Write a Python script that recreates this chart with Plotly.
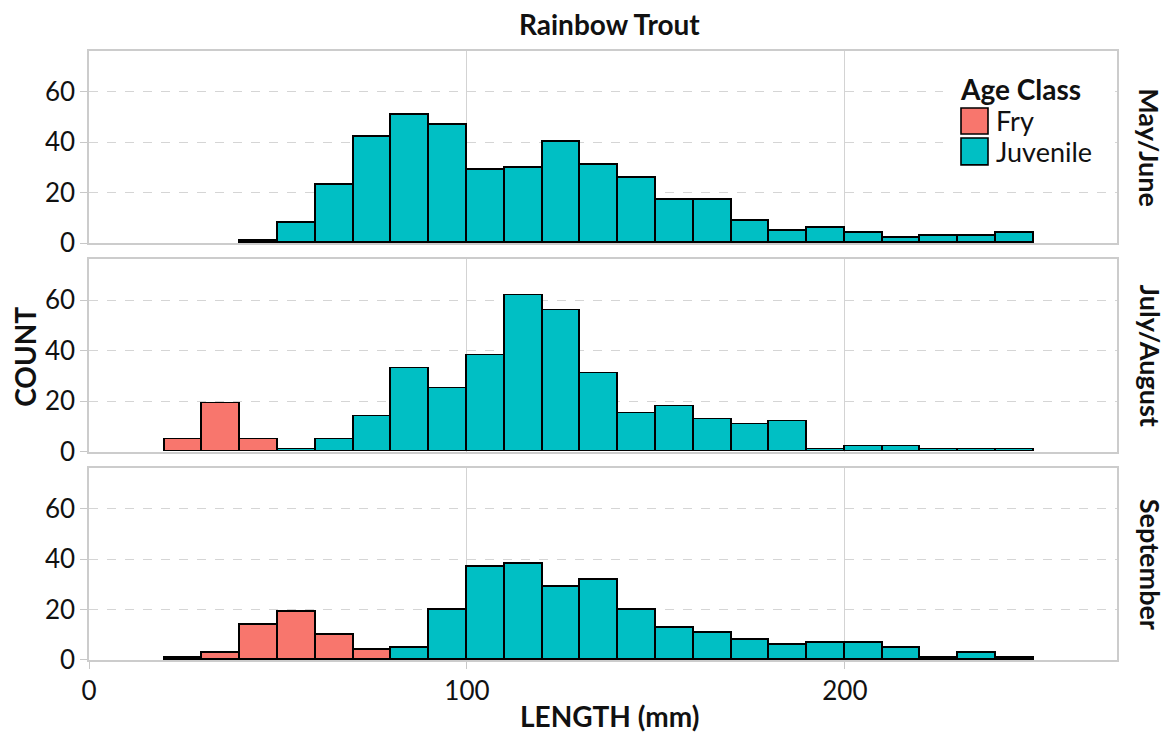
import plotly.graph_objects as go

# ---------------- data ----------------
bin_starts = [20, 30, 40, 50, 60, 70, 80, 90, 100, 110, 120, 130, 140,
              150, 160, 170, 180, 190, 200, 210, 220, 230, 240]
bin_width = 10
periods = ["May/June", "July/August", "September"]
age_classes = ["Fry", "Juvenile"]

fry_may = [0, 0, 0, 0, 0, 0, 0, 0, 0, 0, 0, 0, 0, 0, 0, 0, 0, 0, 0, 0, 0, 0, 0]
juv_may = [0, 0, 1, 8, 23, 42, 51, 47, 29, 30, 40, 31, 26, 17, 17, 9, 5, 6, 4, 2, 3, 3, 4]

fry_jul = [5, 19, 5, 0, 0, 0, 0, 0, 0, 0, 0, 0, 0, 0, 0, 0, 0, 0, 0, 0, 0, 0, 0]
juv_jul = [0, 0, 0, 1, 5, 14, 33, 25, 38, 62, 56, 31, 15, 18, 13, 11, 12, 1, 2, 2, 1, 1, 1]

fry_sep = [1, 3, 14, 19, 10, 4, 0, 0, 0, 0, 0, 0, 0, 0, 0, 0, 0, 0, 0, 0, 0, 0, 0]
juv_sep = [0, 0, 0, 0, 0, 0, 5, 20, 37, 38, 29, 32, 20, 13, 11, 8, 6, 7, 7, 5, 1, 3, 1]

x_ticks = [0, 100, 200]
y_ticks = [0, 20, 40, 60]
colors = {"Fry": "#F8766D", "Juvenile": "#00BFC4"}

panels = [(fry_may, juv_may), (fry_jul, juv_jul), (fry_sep, juv_sep)]

# ---------------- layout geometry ----------------
W, H = 1172, 736
ML, MR, MT, MB = 89, 55, 51, 75.5
PW = W - ML - MR
PH = H - MT - MB

def px2x(px):
    return (px - ML) / PW

def px2y(py):
    return (H - MB - py) / PH

def clamp(v):
    return min(1.0, max(0.0, v))

panel_tops = [51, 259.5, 468]
panel_h = 192.5
domains = [[clamp(px2y(t + panel_h)), clamp(px2y(t))] for t in panel_tops]

FONT = "Lato, 'Open Sans', sans-serif"
TXT = "#111111"

fig = go.Figure()
for i, (fry, juv) in enumerate(panels):
    suffix = "" if i == 0 else str(i + 1)
    for name, vals in (("Fry", fry), ("Juvenile", juv)):
        fig.add_trace(go.Bar(
            x=bin_starts,
            y=[v if v else None for v in vals],
            width=bin_width,
            offset=0,
            name=name,
            marker=dict(color=colors[name], line=dict(color="black", width=1.6)),
            xaxis="x" + suffix,
            yaxis="y" + suffix,
            showlegend=False,
        ))

layout = dict(
    width=W, height=H,
    margin=dict(l=ML, r=MR, t=MT, b=MB),
    paper_bgcolor="white", plot_bgcolor="white",
    barmode="stack", bargap=0,
    font=dict(family=FONT, color=TXT, size=26),
)

for i in range(3):
    suffix = "" if i == 0 else str(i + 1)
    bottom = (i == 2)
    layout["xaxis" + suffix] = dict(
        domain=[0, 1], anchor="y" + suffix, range=[0, 272],
        tickvals=x_ticks, showticklabels=bottom,
        ticks="outside" if bottom else "", ticklen=7, tickcolor="#c8c8c8", tickwidth=1,
        showgrid=True, gridcolor="#d3d3d3", gridwidth=1,
        zeroline=False, showline=True, mirror=True, linecolor="#cccccc", linewidth=1.5,
        tickfont=dict(size=26, color=TXT, family=FONT),
    )
    layout["yaxis" + suffix] = dict(
        domain=domains[i], anchor="x" + suffix, range=[0, 76.2],
        tickvals=y_ticks, ticks="outside", ticklen=7, tickcolor="#c8c8c8", tickwidth=1,
        showgrid=True, gridcolor="#d5d5d5", gridwidth=1, griddash="dash",
        zeroline=False, showline=True, mirror=True, linecolor="#cccccc", linewidth=1.5,
        tickfont=dict(size=26, color=TXT, family=FONT),
    )

fig.update_layout(**layout)

annotations = [
    dict(text="<b>Rainbow Trout</b>", x=px2x(609), y=px2y(24), xref="paper", yref="paper",
         showarrow=False, font=dict(size=28, family=FONT, color=TXT), xanchor="center", yanchor="middle"),
    dict(text="<b>COUNT</b>", x=px2x(25), y=px2y(357), xref="paper", yref="paper",
         showarrow=False, textangle=-90, font=dict(size=28, family=FONT, color=TXT),
         xanchor="center", yanchor="middle"),
    dict(text="<b>LENGTH (mm)</b>", x=px2x(609), y=px2y(717), xref="paper", yref="paper",
         showarrow=False, font=dict(size=28, family=FONT, color=TXT), xanchor="center", yanchor="middle"),
]
for i, p in enumerate(periods):
    annotations.append(dict(
        text="<b>" + p + "</b>", x=px2x(1150), y=(domains[i][0] + domains[i][1]) / 2,
        xref="paper", yref="paper", showarrow=False, textangle=90,
        font=dict(size=27, family=FONT, color=TXT), xanchor="center", yanchor="middle"))

# legend (manual, inside top panel)
annotations.append(dict(text="<b>Age Class</b>", x=px2x(958), y=px2y(89), xref="paper", yref="paper",
                        showarrow=False, xanchor="left", yanchor="middle",
                        font=dict(size=28, family=FONT, color=TXT)))
leg_rows = [("Fry", 108, 134), ("Juvenile", 138, 165)]
shapes = [dict(type="rect", xref="paper", yref="paper", x0=px2x(943), x1=px2x(1111),
               y0=px2y(175), y1=px2y(70), fillcolor="white", line=dict(width=0), layer="above")]
for name, t, b in leg_rows:
    shapes.append(dict(type="rect", xref="paper", yref="paper", x0=px2x(961), x1=px2x(988),
                       y0=px2y(b), y1=px2y(t), fillcolor=colors[name],
                       line=dict(color="black", width=1.6), layer="above"))
    annotations.append(dict(text=name, x=px2x(994), y=px2y((t + b) / 2), xref="paper", yref="paper",
                            showarrow=False, xanchor="left", yanchor="middle",
                            font=dict(size=27, family=FONT, color=TXT)))

fig.update_layout(annotations=annotations, shapes=shapes)
fig.write_html("out.html")
